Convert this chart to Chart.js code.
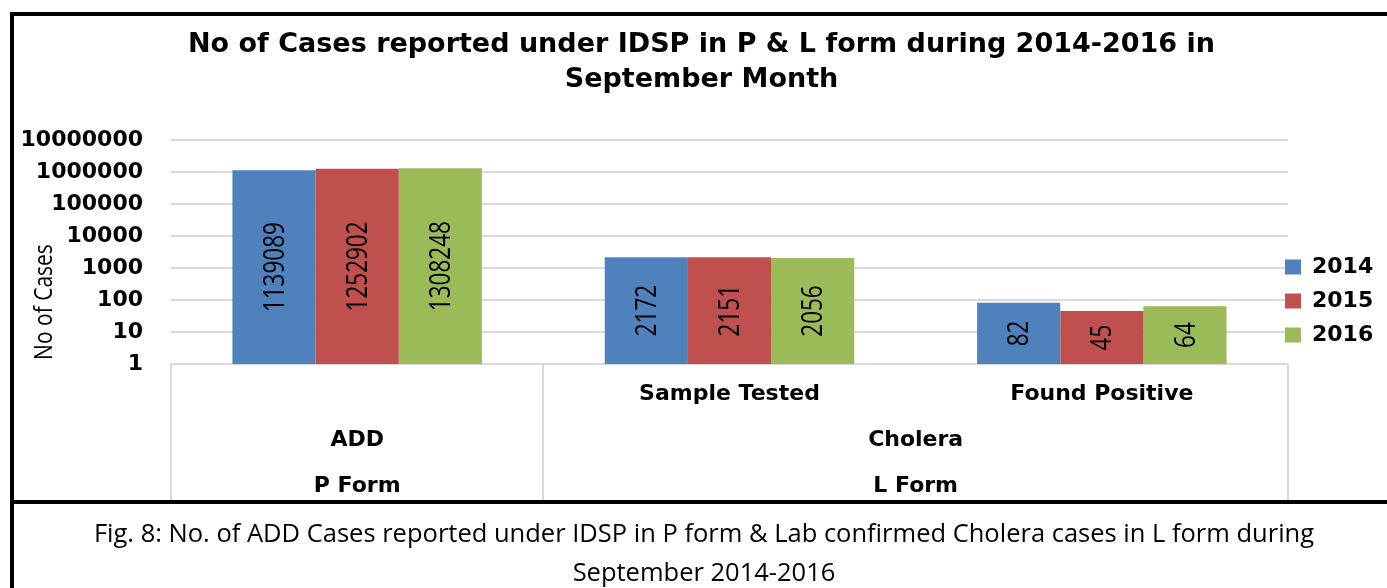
<!DOCTYPE html>
<html>
<head>
<meta charset="utf-8">
<script src="https://cdn.jsdelivr.net/npm/chart.js@4/dist/chart.umd.min.js"></script>
<style>
  html, body { margin: 0; padding: 0; background: #fff; width: 1387px; height: 588px; overflow: hidden; }
  #wrap { position: absolute; left: 0; top: 0; width: 1387px; height: 500px; }
  .bar { position: absolute; background: #000; }
  #caption { position: absolute; left: 14px; top: 504px; width: 1380px; text-align: center;
    font-family: "Open Sans", sans-serif; font-size: 25.5px; line-height: 39px; color: #000; padding-top: 9px; }
</style>
</head>
<body>
<div id="wrap"><canvas id="c" width="1387" height="500"></canvas></div>
<div class="bar" style="left:10px;top:12px;width:1400px;height:4px;"></div>
<div class="bar" style="left:10px;top:12px;width:4px;height:600px;"></div>
<div class="bar" style="left:10px;top:500px;width:1400px;height:4px;"></div>
<div id="caption">Fig. 8: No. of ADD Cases reported under IDSP in P form &amp; Lab confirmed Cholera cases in L form during<br>September 2014-2016</div>
<script>
// ---- data ----
const categories = ['ADD', 'Sample Tested', 'Found Positive'];
const level1Labels = ['', 'Sample Tested', 'Found Positive'];
const level2Labels = ['ADD', 'Cholera', 'Cholera'];
const level3Labels = ['P Form', 'L Form', 'L Form'];
const seriesNames = ['2014', '2015', '2016'];
const values2014 = [1139089, 2172, 82];
const values2015 = [1252902, 2151, 45];
const values2016 = [1308248, 2056, 64];
const yTickValues = [1, 10, 100, 1000, 10000, 100000, 1000000, 10000000];
const titleLines = ['No of Cases reported under IDSP in P & L form during 2014-2016 in', 'September Month'];
const yAxisTitle = 'No of Cases';

const colors = ['#4f81bd', '#c0504d', '#9bbb59'];
const seriesValues = [values2014, values2015, values2016];

function spans(labels) {
  const out = [];
  let start = 0;
  for (let i = 1; i <= labels.length; i++) {
    if (i === labels.length || labels[i] !== labels[start]) {
      out.push({ text: labels[start], start: start, end: i - 1 });
      start = i;
    }
  }
  return out;
}

const customPlugin = {
  id: 'custom',
  afterLayout(chart) {
    const lg = chart.legend;
    const h = lg.bottom - lg.top;
    const center = 301;
    lg.top = center - h / 2;
    lg.bottom = lg.top + h;
    lg.left = 1273;
    lg.right = 1387;
  },
  afterDatasetsDraw(chart) {
    const ctx = chart.ctx;
    ctx.save();
    ctx.fillStyle = '#000';
    ctx.font = '22.5px "Open Sans"';
    ctx.textAlign = 'center';
    ctx.textBaseline = 'middle';
    chart.data.datasets.forEach((ds, di) => {
      const meta = chart.getDatasetMeta(di);
      meta.data.forEach((bar, i) => {
        const x = bar.x;
        const y = (bar.y + bar.base) / 2;
        ctx.save();
        ctx.translate(x, y);
        ctx.rotate(-Math.PI / 2);
        ctx.scale(1, 1.3);
        ctx.fillText(String(ds.data[i]), 0, 1);
        ctx.restore();
      });
    });
    ctx.restore();
  },
  afterDraw(chart) {
    const ctx = chart.ctx;
    const xs = chart.scales.x;
    const area = chart.chartArea;
    const n = categories.length;
    const w = (xs.right - xs.left) / n;
    const bottom = chart.height;
    ctx.save();
    ctx.strokeStyle = '#d9d9d9';
    ctx.lineWidth = 2;
    const seps = [xs.left, xs.right];
    spans(level3Labels).forEach(s => { if (s.start > 0) seps.push(xs.left + s.start * w); });
    seps.forEach(px => {
      ctx.beginPath();
      ctx.moveTo(Math.round(px), area.bottom);
      ctx.lineTo(Math.round(px), bottom);
      ctx.stroke();
    });
    ctx.fillStyle = '#000';
    ctx.textAlign = 'center';
    ctx.textBaseline = 'middle';
    ctx.font = 'bold 22px "DejaVu Sans"';
    const rows = [level1Labels, level2Labels, level3Labels];
    const rowY = [area.bottom + 30, area.bottom + 76, area.bottom + 122];
    rows.forEach((labels, r) => {
      spans(labels).forEach(s => {
        if (!s.text) return;
        const cx = xs.left + (s.start + s.end + 1) / 2 * w;
        ctx.fillText(s.text, cx, rowY[r]);
      });
    });
    ctx.font = '21px "Open Sans"';
    ctx.save();
    ctx.translate(45, 302);
    ctx.rotate(-Math.PI / 2);
    ctx.scale(1, 1.25);
    ctx.fillText(yAxisTitle, 0, 0);
    ctx.restore();
    ctx.restore();
  }
};

new Chart(document.getElementById('c'), {
  type: 'bar',
  data: {
    labels: categories,
    datasets: seriesNames.map((name, i) => ({
      label: name,
      data: seriesValues[i],
      backgroundColor: colors[i],
      borderWidth: 0,
      categoryPercentage: 0.67,
      barPercentage: 1.0
    }))
  },
  options: {
    responsive: false,
    animation: false,
    devicePixelRatio: 1,
    layout: { padding: { left: 16, right: 0, top: 0, bottom: 0 } },
    plugins: {
      title: {
        display: true,
        text: titleLines,
        color: '#000',
        font: { family: '"DejaVu Sans"', weight: 'bold', size: 27, lineHeight: 1.3 },
        padding: { top: 27.5, bottom: 42.3 }
      },
      legend: {
        position: 'right',
        maxWidth: 99,
        labels: {
          color: '#000',
          font: { family: '"DejaVu Sans"', weight: 'bold', size: 22 },
          boxWidth: 16,
          boxHeight: 15,
          padding: 12
        }
      },
      tooltip: { enabled: false }
    },
    scales: {
      x: {
        type: 'category',
        grid: { display: false },
        border: { display: false },
        ticks: { display: false },
        afterFit(s) { s.height = 136; }
      },
      y: {
        type: 'logarithmic',
        min: 1,
        max: 10000000,
        border: { display: false },
        grid: { color: '#d9d9d9', lineWidth: 2, drawTicks: false },
        ticks: {
          padding: 28,
          color: '#000',
          autoSkip: false,
          font: { family: '"DejaVu Sans"', weight: 'bold', size: 22 },
          callback: (v) => String(v)
        },
        afterBuildTicks(s) { s.ticks = yTickValues.map(v => ({ value: v })); },
        afterFit(s) { s.width = 155; }
      }
    }
  },
  plugins: [customPlugin]
});
</script>
</body>
</html>
